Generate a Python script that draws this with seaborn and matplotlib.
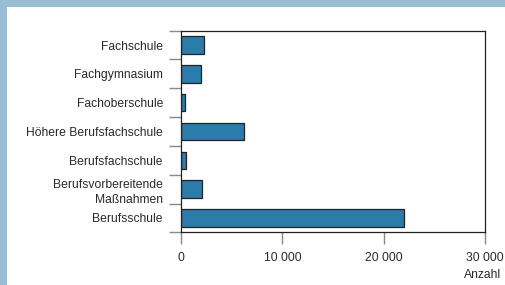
import matplotlib
matplotlib.use("Agg")
import matplotlib.pyplot as plt
from matplotlib.patches import Rectangle
from matplotlib.ticker import FixedLocator, FuncFormatter
import seaborn as sns
import pandas as pd

categories = ["Fachschule", "Fachgymnasium", "Fachoberschule", "Höhere Berufsfachschule",
              "Berufsfachschule", "Berufsvorbereitende\nMaßnahmen", "Berufsschule"]
values = [2300, 2000, 420, 6220, 460, 2100, 22000]
xticks = [0, 10000, 20000, 30000]
xlabel = "Anzahl"

sns.set_theme(style="white")
plt.rcParams['font.family'] = ['Liberation Sans', 'DejaVu Sans']

df = pd.DataFrame({"Kategorie": categories, "Anzahl": values})

fig = plt.figure(figsize=(5.06, 2.85), dpi=100)
fig.patch.set_facecolor("white")
# light blue frame (top band and left band)
fig.patches.append(Rectangle((0, 1 - 7/285), 1, 7/285, transform=fig.transFigure,
                             facecolor="#9bbdd4", edgecolor="none", zorder=0))
fig.patches.append(Rectangle((0, 0), 7/506, 1, transform=fig.transFigure,
                             facecolor="#9bbdd4", edgecolor="none", zorder=0))

ax = fig.add_axes([181/506, (285-232.3)/285, (485-181)/506, (232.3-30.7)/285])
sns.barplot(data=df, x="Anzahl", y="Kategorie", order=categories, orient="h",
            color="#2b7bab", saturation=1, width=0.6, edgecolor="#222222",
            linewidth=0.9, ax=ax)

ax.set_xlim(0, 30000)
ax.set_ylim(len(categories) - 0.5, -0.5)
ax.set_xticks(xticks)
ax.xaxis.set_major_formatter(FuncFormatter(lambda v, p: f"{int(v):,}".replace(",", " ")))
ax.set_ylabel("")
ax.set_xlabel("")
ax.yaxis.set_minor_locator(FixedLocator([i - 0.5 for i in range(len(categories) + 1)]))
ax.tick_params(axis="y", which="major", length=0, pad=13, labelsize=8.7, labelcolor="#2a2a2a")
ax.tick_params(axis="y", which="minor", length=8.6, width=1.0, color="#888888", left=True)
ax.tick_params(axis="x", which="major", length=8.5, width=1.0, color="#888888", pad=5.5,
               labelsize=8.7, labelcolor="#2a2a2a", bottom=True)
for s in ax.spines.values():
    s.set_visible(True)
    s.set_color("#222222")
    s.set_linewidth(0.9)

ax.text((483-181)/(485-181), -(274.5-232.3)/(232.3-30.7), xlabel, transform=ax.transAxes,
        ha="center", va="center", fontsize=8.7, color="#2a2a2a")

fig.canvas.draw()
for lbl in ax.get_yticklabels():
    lbl.set_horizontalalignment("right")
    lbl.set_linespacing(1.4)

fig.savefig("out.png", dpi=100, facecolor="white")
